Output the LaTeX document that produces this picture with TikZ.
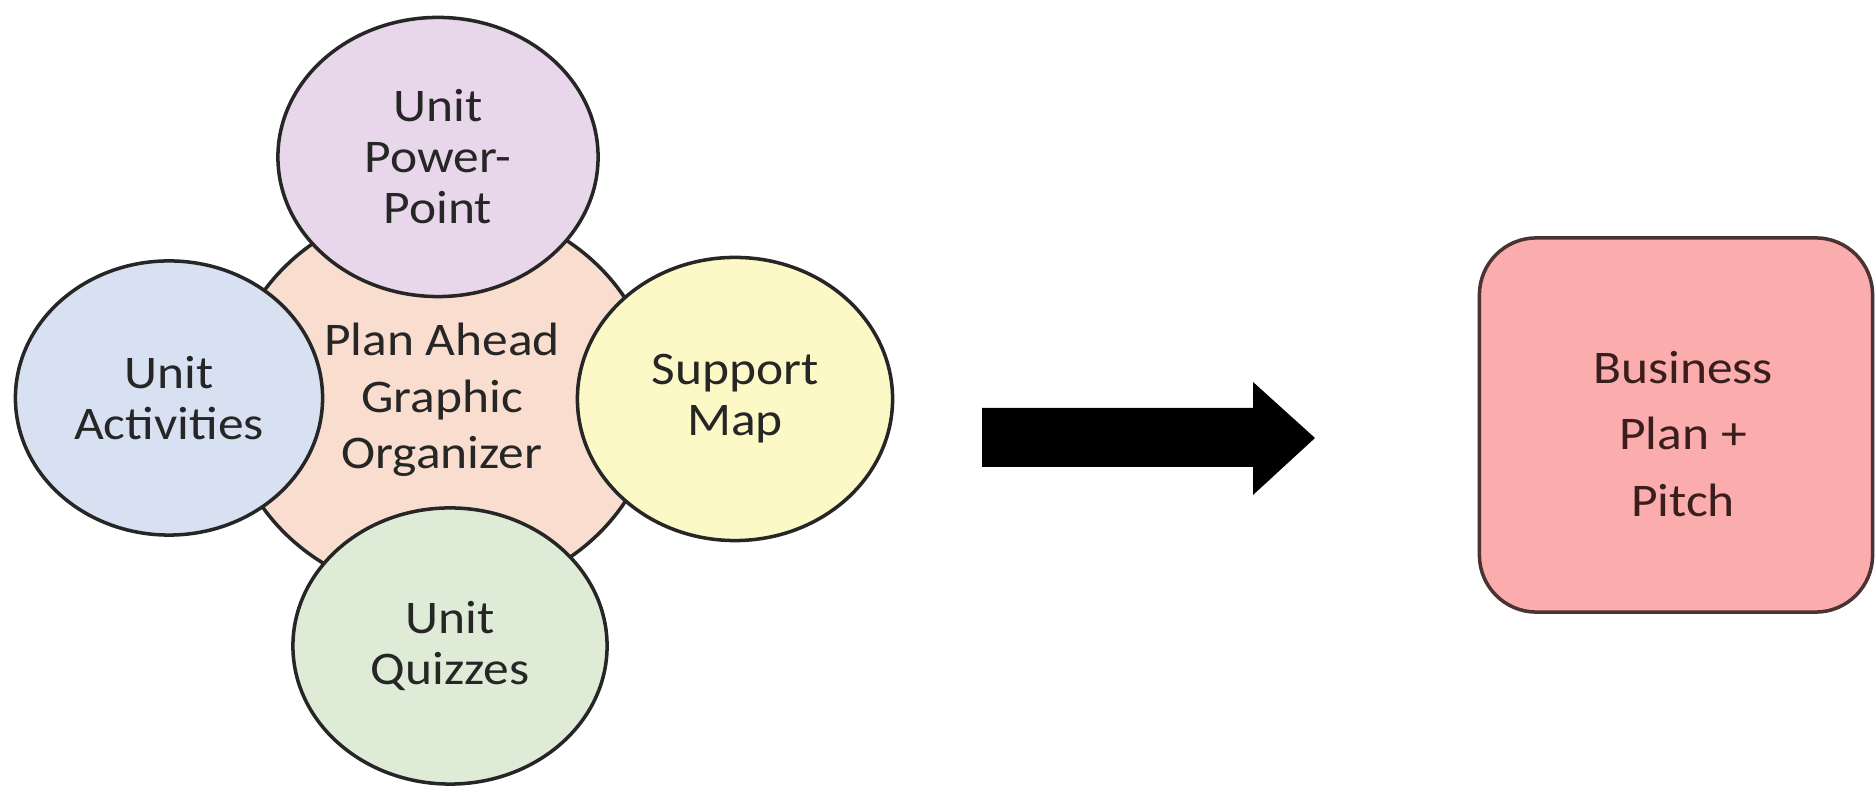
\documentclass[tikz,border=0pt]{standalone}
\usepackage{fontspec}
\setmainfont{Carlito}[FakeStretch=1.1]
\usetikzlibrary{shapes.geometric}
\definecolor{cpurple}{HTML}{E8D6EA}
\definecolor{cblue}{HTML}{D8E1F1}
\definecolor{cyellow}{HTML}{FCF9C6}
\definecolor{cgreen}{HTML}{DEEBD6}
\definecolor{cpeach}{HTML}{F9DDCE}
\definecolor{cpink}{HTML}{FBACAC}
\definecolor{cline}{HTML}{262626}
\definecolor{cboxline}{HTML}{4A3333}
\definecolor{ctext}{HTML}{262626}
\definecolor{cboxtext}{HTML}{3A1E1E}
\begin{document}
\begin{tikzpicture}[x=0.01cm,y=-0.01cm,
  bubble/.style={ellipse, draw=cline, line width=1pt, inner sep=0pt,
    align=center, text=ctext, font=\fontsize{13.3}{14.5}\selectfont},
  hub/.style={bubble, font=\fontsize{13.3}{16}\selectfont},
  goalbox/.style={draw=cboxline, fill=cpink, line width=1pt, rounded corners=0.57cm,
    minimum width=3.93cm, minimum height=3.74cm, inner sep=0pt},
  goaltext/.style={align=center, text=cboxtext, font=\fontsize{13.3}{19}\selectfont}]
\useasboundingbox (0,0) rectangle (1875,786);
% central hub
\node[hub, fill=cpeach, minimum width=4.28cm, minimum height=3.92cm] (hub) at (442,400)
  {Plan Ahead\\Graphic\\Organizer};
% surrounding bubbles
\node[bubble, fill=cpurple, minimum width=3.20cm, minimum height=2.79cm] (ppt) at (438,157)
  {Unit\\Power-\\Point};
\node[bubble, fill=cblue, minimum width=3.07cm, minimum height=2.74cm] (act) at (169,398)
  {Unit\\Activities};
\node[bubble, fill=cyellow, minimum width=3.15cm, minimum height=2.83cm] (map) at (735,399)
  {Support\\Map};
\node[bubble, fill=cgreen, minimum width=3.14cm, minimum height=2.76cm] (quiz) at (450,646)
  {Unit\\Quizzes};
% block arrow
\fill[black] (982,408) coordinate (arrowtail) -- (1253,408) -- (1253,382)
  -- (1315,438) coordinate (arrowtip) -- (1253,495) -- (1253,467) -- (982,467) -- cycle;
% goal box
\node[goalbox] (goal) at (1676,425) {};
\node[goaltext] (goaltxt) at (1683,434) {Business\\Plan +\\Pitch};
\end{tikzpicture}
\end{document}
